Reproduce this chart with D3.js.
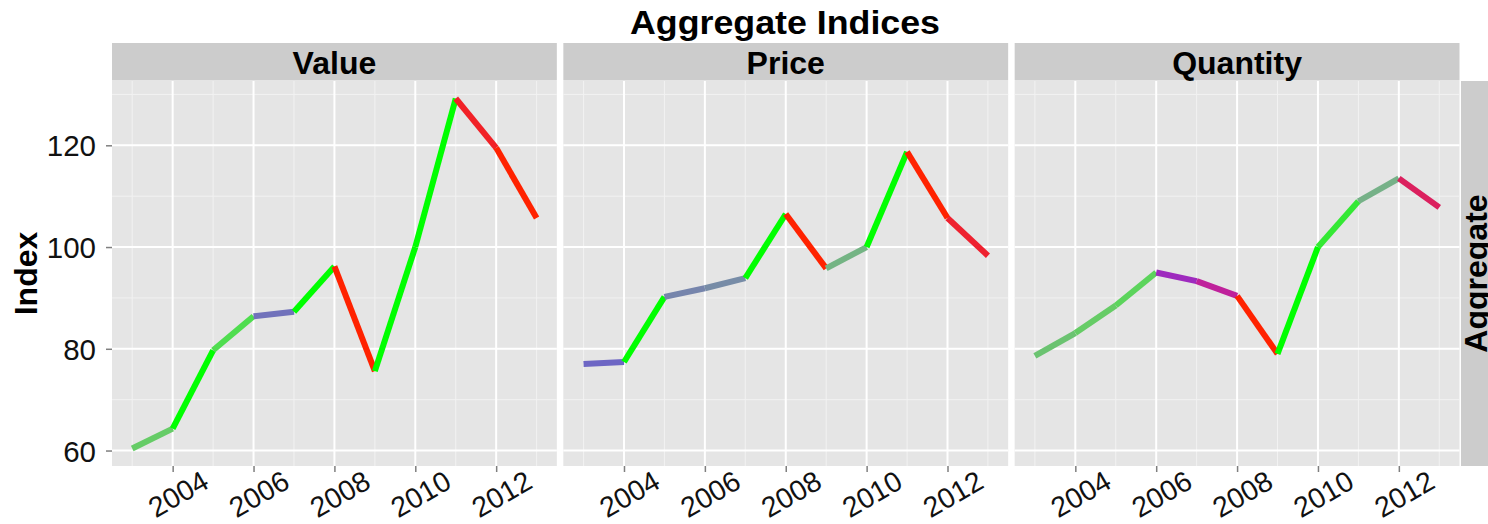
<!DOCTYPE html>
<html><head><meta charset="utf-8">
<script src="https://cdn.jsdelivr.net/npm/d3@7"></script>
<style>
body{margin:0;background:#fff;}
svg{display:block;font-family:"Liberation Sans",Arial,Helvetica,sans-serif;}
</style>
</head><body>
<svg id="chart" width="1488" height="524"></svg>
<script>
// ---- data ----
const years = [2003, 2004, 2005, 2006, 2007, 2008, 2009, 2010, 2011, 2012, 2013];
const facets = ["Value", "Price", "Quantity"];
const valueIndex    = [60.4, 64.3, 79.7, 86.4, 87.3, 96.2, 75.6, 100.0, 129.2, 119.5, 105.7];
const priceIndex    = [77.0, 77.4, 90.2, 91.9, 93.9, 106.5, 95.8, 100.0, 118.7, 105.7, 98.3];
const quantityIndex = [78.6, 83.1, 88.5, 95.0, 93.3, 90.4, 79.0, 100.0, 109.0, 113.5, 107.8];
const rowLabel = "Aggregate";
const yTicks = [60, 80, 100, 120];
const yMinorTicks = [70, 90, 110, 130];
const xTicks = [2004, 2006, 2008, 2010, 2012];
const xMinorTicks = [2003, 2005, 2007, 2009, 2011, 2013];
const growthStops  = [-0.10, -0.06, -0.035, -0.02, 0, 0.02, 0.04, 0.065, 0.085, 0.10];
const growthColors = ["#ff2200", "#e8203f", "#c8208f", "#a424bc", "#6a5acd", "#7788aa", "#77b08a", "#66cc66", "#4ede4e", "#00ff00"];

const seriesByFacet = { Value: valueIndex, Price: priceIndex, Quantity: quantityIndex };

// ---- layout ----
const svg = d3.select("#chart");
const plotLeft = 112, plotRight = 1459.5, gap = 6.5;
const panelW = (plotRight - plotLeft - 2 * gap) / 3;
const stripTop = 43, panelTop = 81, panelBottom = 466;

const allVals = valueIndex.concat(priceIndex, quantityIndex);
const vmin = d3.min(allVals), vmax = d3.max(allVals);
const pad = (vmax - vmin) * 0.05;
const y = d3.scaleLinear().domain([vmin - pad, vmax + pad]).range([panelBottom, panelTop]);
const x = d3.scaleLinear().domain([years[0] - 0.5, years[years.length - 1] + 0.5]).range([0, panelW]);
const color = d3.scaleLinear().domain(growthStops).range(growthColors).interpolate(d3.interpolateRgb).clamp(true);

// title
svg.append("text").attr("x", 785).attr("y", 34).attr("text-anchor", "middle")
  .attr("font-size", 33).attr("font-weight", "bold").attr("fill", "#000")
  .attr("textLength", 310).attr("lengthAdjust", "spacingAndGlyphs").text("Aggregate Indices");

// y axis title
svg.append("text").attr("transform", "translate(37," + ((panelTop + panelBottom) / 2) + ") rotate(-90)")
  .attr("text-anchor", "middle").attr("font-size", 32).attr("font-weight", "bold").text("Index");

facets.forEach((f, i) => {
  const x0 = plotLeft + i * (panelW + gap);
  const g = svg.append("g").attr("transform", "translate(" + x0 + ",0)");
  // strip
  g.append("rect").attr("x", 0).attr("y", stripTop).attr("width", panelW).attr("height", panelTop - stripTop - 0.5).attr("fill", "#cccccc");
  g.append("text").attr("x", panelW / 2).attr("y", 74).attr("text-anchor", "middle")
    .attr("font-size", 32).attr("font-weight", "bold").text(f);
  // panel bg
  g.append("rect").attr("x", 0).attr("y", panelTop).attr("width", panelW).attr("height", panelBottom - panelTop).attr("fill", "#e5e5e5");
  // minor grid
  g.selectAll(".ymin").data(yMinorTicks).enter().append("line")
    .attr("x1", 0).attr("x2", panelW).attr("y1", d => y(d)).attr("y2", d => y(d))
    .attr("stroke", "#f2f2f2").attr("stroke-width", 1);
  g.selectAll(".xmin").data(xMinorTicks).enter().append("line")
    .attr("y1", panelTop).attr("y2", panelBottom).attr("x1", d => x(d)).attr("x2", d => x(d))
    .attr("stroke", "#f2f2f2").attr("stroke-width", 1);
  // major grid
  g.selectAll(".ymaj").data(yTicks).enter().append("line")
    .attr("x1", 0).attr("x2", panelW).attr("y1", d => y(d)).attr("y2", d => y(d))
    .attr("stroke", "#ffffff").attr("stroke-width", 2);
  g.selectAll(".xmaj").data(xTicks).enter().append("line")
    .attr("y1", panelTop).attr("y2", panelBottom).attr("x1", d => x(d)).attr("x2", d => x(d))
    .attr("stroke", "#ffffff").attr("stroke-width", 2);

  // x axis
  const xa = g.append("g").attr("transform", "translate(0," + panelBottom + ")")
    .call(d3.axisBottom(x).tickValues(xTicks).tickFormat(d3.format("d")).tickSize(6).tickPadding(0));
  xa.select(".domain").remove();
  xa.selectAll(".tick line").attr("stroke", "#7f7f7f").attr("stroke-width", 1.5);
  xa.selectAll(".tick text").attr("font-size", 28.5).attr("fill", "#111").attr("font-family", null)
    .attr("text-anchor", "middle").attr("y", null).attr("dy", "0.35em")
    .attr("transform", "translate(5,28) rotate(-30)");

  // y axis only on first
  if (i === 0) {
    const ya = g.append("g").call(d3.axisLeft(y).tickValues(yTicks).tickSize(6).tickPadding(10));
    ya.select(".domain").remove();
    ya.selectAll(".tick line").attr("stroke", "#7f7f7f").attr("stroke-width", 1.5);
    ya.selectAll(".tick text").attr("font-size", 29.5).attr("fill", "#111").attr("font-family", null).attr("dy", "0.36em");
  }

  // segments coloured by growth
  const vals = seriesByFacet[f];
  const segs = d3.pairs(years.map((yr, k) => ({ yr, v: vals[k] })));
  g.selectAll(".seg").data(segs).enter().append("line")
    .attr("x1", d => x(d[0].yr)).attr("y1", d => y(d[0].v))
    .attr("x2", d => x(d[1].yr)).attr("y2", d => y(d[1].v))
    .attr("stroke", d => color(d[1].v / d[0].v - 1))
    .attr("stroke-width", 6).attr("stroke-linecap", "butt");
});

// right strip
svg.append("rect").attr("x", plotRight + 1.5).attr("y", panelTop).attr("width", 40).attr("height", panelBottom - panelTop).attr("fill", "#cccccc");
svg.append("text").attr("transform", "translate(1487," + ((panelTop + panelBottom) / 2) + ") rotate(-90)")
  .attr("text-anchor", "middle").attr("font-size", 32).attr("font-weight", "bold").text(rowLabel);
</script>
</body></html>
